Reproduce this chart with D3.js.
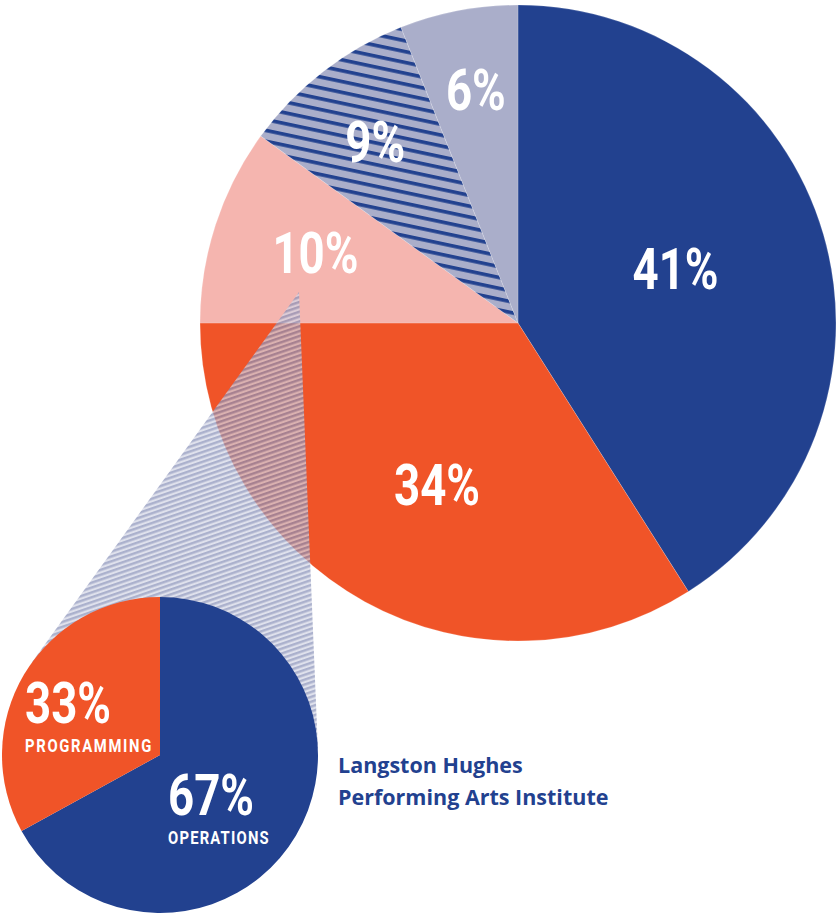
<!DOCTYPE html>
<html>
<head>
<meta charset="utf-8">
<script src="https://cdn.jsdelivr.net/npm/d3@7"></script>
<style>
  body { margin: 0; background: #fff; }
  svg { display: block; }
</style>
</head>
<body>
<div id="chart"></div>
<script>
// main pie: share of budget, clockwise from 12 o'clock
var mainValues = [41, 34, 10, 9, 6];
var mainLabels = ["41%", "34%", "10%", "9%", "6%"];
var mainFills = ["#22418f", "#f05428", "#f5b5af", "url(#navyStripes)", "#aaaeca"];

// breakout pie for the 10% slice
var subValues = [67, 33];
var subPercents = ["67%", "33%"];
var subNames = ["OPERATIONS", "PROGRAMMING"];
var subFills = ["#22418f", "#f05428"];

var titleLines = ["Langston Hughes", "Performing Arts Institute"];

var W = 836, H = 915;
var BIG = { x: 518, y: 323, r: 318 };
var SMALL = { x: 160, y: 755, r: 158 };
// label placement along each slice's mid angle, plus a baseline nudge
var LABEL_R = [164, 168, 213, 233, 225];
var LABEL_DY = [12, 35, 16, 23, 8];
var NUM_FONT = "Roboto, 'Liberation Sans', sans-serif";
var SQUEEZE = 0.8;   // condensed look

var svg = d3.select("#chart").append("svg")
        .attr("width", W)
        .attr("height", H);

var defs = svg.append("defs");

var p1 = defs.append("pattern")
        .attr("id", "navyStripes")
        .attr("patternUnits", "userSpaceOnUse")
        .attr("width", 20)
        .attr("height", 10.6)
        .attr("patternTransform", "rotate(12)");
p1.append("rect").attr("width", 20).attr("height", 10.6).attr("fill", "#aaaeca");
p1.append("rect").attr("y", 0).attr("width", 20).attr("height", 3.6).attr("fill", "#22418f");

var p2 = defs.append("pattern")
        .attr("id", "greyStripes")
        .attr("patternUnits", "userSpaceOnUse")
        .attr("width", 20)
        .attr("height", 4.6)
        .attr("patternTransform", "rotate(-19)");
p2.append("rect").attr("width", 20).attr("height", 4.6).attr("fill", "#d2d5e5");
p2.append("rect").attr("width", 20).attr("height", 2.4).attr("fill", "#8a92b9");

var pie = d3.pie().sort(null).value(function(d) { return d; });

// ---- main pie
var bigArcs = pie(mainValues);
var arcBig = d3.arc().innerRadius(0).outerRadius(BIG.r);

var gBig = svg.append("g").attr("transform", "translate(" + BIG.x + "," + BIG.y + ")");

gBig.selectAll("path")
        .data(bigArcs)
        .enter().append("path")
        .attr("d", arcBig)
        .attr("fill", function(d, i) { return mainFills[i]; })
        .attr("stroke", "#fff")
        .attr("stroke-opacity", 0.35)
        .attr("stroke-width", 0.5);

// ---- connector from the 10% slice to the breakout pie
// apex sits inside the 10% slice, sides are tangents to the small circle
var apex = { x: 299, y: 292 };
var ddx = SMALL.x - apex.x, ddy = SMALL.y - apex.y;
var dist = Math.sqrt(ddx * ddx + ddy * ddy);
var base = Math.atan2(ddy, ddx);
var half = Math.asin(SMALL.r / dist);
var tlen = Math.sqrt(dist * dist - SMALL.r * SMALL.r);
var t1 = [apex.x + tlen * Math.cos(base + half), apex.y + tlen * Math.sin(base + half)];
var t2 = [apex.x + tlen * Math.cos(base - half), apex.y + tlen * Math.sin(base - half)];

svg.append("polygon")
        .attr("points", [[apex.x, apex.y], t1, [SMALL.x, SMALL.y], t2].map(function(p) { return p.join(","); }).join(" "))
        .attr("fill", "url(#greyStripes)")
        .attr("opacity", 0.72);

// ---- breakout pie
var arcSmall = d3.arc().innerRadius(0).outerRadius(SMALL.r);
var gSmall = svg.append("g").attr("transform", "translate(" + SMALL.x + "," + SMALL.y + ")");

gSmall.selectAll("path")
        .data(pie(subValues))
        .enter().append("path")
        .attr("d", arcSmall)
        .attr("fill", function(d, i) { return subFills[i]; });

function numText(sel, size) {
        return sel.attr("fill", "#fff")
                .style("font-family", NUM_FONT)
                .style("font-weight", "bold")
                .style("font-size", size + "px");
}

// ---- labels on the main pie
gBig.selectAll("text.pct")
        .data(bigArcs)
        .enter().append("text")
        .attr("class", "pct")
        .attr("transform", function(d, i) {
                var a = (d.startAngle + d.endAngle) / 2;
                var x = LABEL_R[i] * Math.sin(a);
                var y = -LABEL_R[i] * Math.cos(a) + LABEL_DY[i];
                return "translate(" + x + "," + y + ") scale(" + SQUEEZE + ",1)";
        })
        .attr("text-anchor", "middle")
        .call(numText, 57)
        .text(function(d, i) { return mainLabels[i]; });

// ---- labels on the breakout pie (left aligned blocks)
var subPos = [[8, 60], [-135, -32]];
var subSpacing = [1.5, 2.1];
subValues.forEach(function(v, i) {
        var g = gSmall.append("g")
                .attr("transform", "translate(" + subPos[i][0] + "," + subPos[i][1] + ") scale(" + SQUEEZE + ",1)");
        g.append("text")
                .call(numText, 57)
                .text(subPercents[i]);
        g.append("text")
                .attr("y", 29)
                .call(numText, 18.5)
                .style("letter-spacing", subSpacing[i] + "px")
                .text(subNames[i]);
});

// ---- title
svg.append("g")
        .selectAll("text")
        .data(titleLines)
        .enter().append("text")
        .attr("x", 338)
        .attr("y", function(d, i) { return 773 + i * 32; })
        .attr("fill", "#22418f")
        .style("font-family", "'Open Sans', Roboto, sans-serif")
        .style("font-weight", "bold")
        .style("font-size", "21.5px")
        .text(function(d) { return d; });
</script>
</body>
</html>
